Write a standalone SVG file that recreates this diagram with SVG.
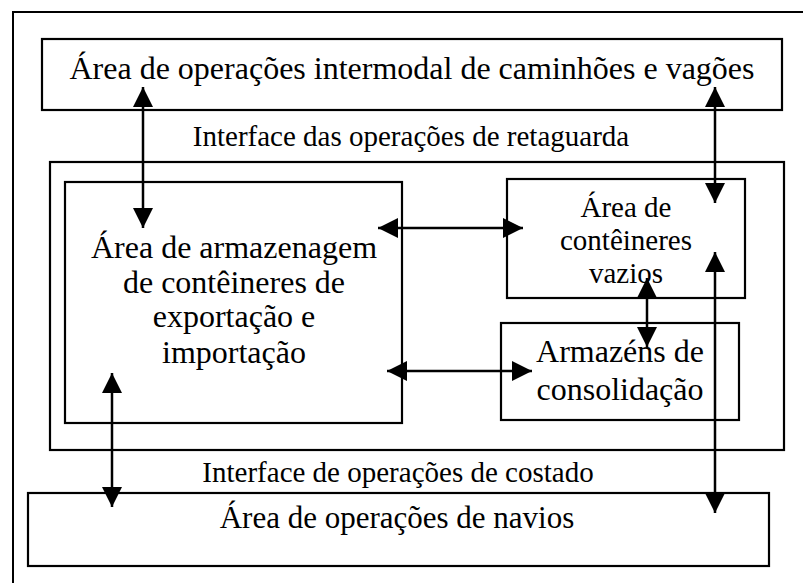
<svg xmlns="http://www.w3.org/2000/svg" width="803" height="583" viewBox="0 0 803 583">
<style>
.box{fill:none;stroke:#000;stroke-width:2.2}
.t{fill:#000;text-anchor:middle}
.c{stroke:#000;stroke-width:2.5;fill:none;marker-start:url(#ah);marker-end:url(#ah)}
</style>
<defs>
<marker id="ah" viewBox="0 0 20 20" refX="20" refY="10" markerWidth="20" markerHeight="20" markerUnits="userSpaceOnUse" orient="auto-start-reverse">
<path d="M0,0 L20,10 L0,20 z" fill="#000"/>
</marker>
</defs>
<rect width="803" height="583" fill="#fff"/>
<path d="M13,583 L13,12 L803,12" fill="none" stroke="#000" stroke-width="2"/>
<g font-family="'Liberation Serif', 'DejaVu Serif', serif">
<g id="intermodal">
<rect class="box" x="42" y="39" width="740" height="71"/>
<text class="t" x="412" y="79" font-size="32">Área de operações intermodal de caminhões e vagões</text>
</g>
<g id="label-retaguarda">
<text class="t" x="411" y="146" font-size="29">Interface das operações de retaguarda</text>
</g>
<g id="patio">
<rect class="box" x="50" y="162" width="734" height="288"/>
</g>
<g id="armazenagem">
<rect class="box" x="65" y="182" width="337" height="241"/>
<text class="t" x="234" y="258" font-size="32">Área de armazenagem</text>
<text class="t" x="234" y="293" font-size="32">de contêineres de</text>
<text class="t" x="234" y="327" font-size="32">exportação e</text>
<text class="t" x="234" y="363" font-size="32">importação</text>
</g>
<g id="vazios">
<rect class="box" x="507" y="179" width="238" height="119"/>
<text class="t" x="626" y="217" font-size="29">Área de</text>
<text class="t" x="626" y="250" font-size="29">contêineres</text>
<text class="t" x="626" y="283" font-size="29">vazios</text>
</g>
<g id="consolidacao">
<rect class="box" x="501" y="323" width="238" height="97"/>
<text class="t" x="620" y="362" font-size="32">Armazéns de</text>
<text class="t" x="620" y="400" font-size="32">consolidação</text>
</g>
<g id="label-costado">
<text class="t" x="398" y="482" font-size="29">Interface de operações de costado</text>
</g>
<g id="navios">
<rect class="box" x="28" y="493" width="741" height="73"/>
<text class="t" x="397" y="528" font-size="31">Área de operações de navios</text>
</g>
</g>
<g id="connectors">
<line class="c" x1="143" y1="87" x2="143" y2="228"/>
<line class="c" x1="715" y1="87" x2="715" y2="203"/>
<line class="c" x1="378" y1="228" x2="523" y2="228"/>
<line class="c" x1="387" y1="371" x2="532" y2="371"/>
<line class="c" x1="647" y1="278" x2="647" y2="347"/>
<line class="c" x1="715" y1="252" x2="715" y2="513"/>
<line class="c" x1="112" y1="373" x2="112" y2="507"/>
</g>
</svg>
